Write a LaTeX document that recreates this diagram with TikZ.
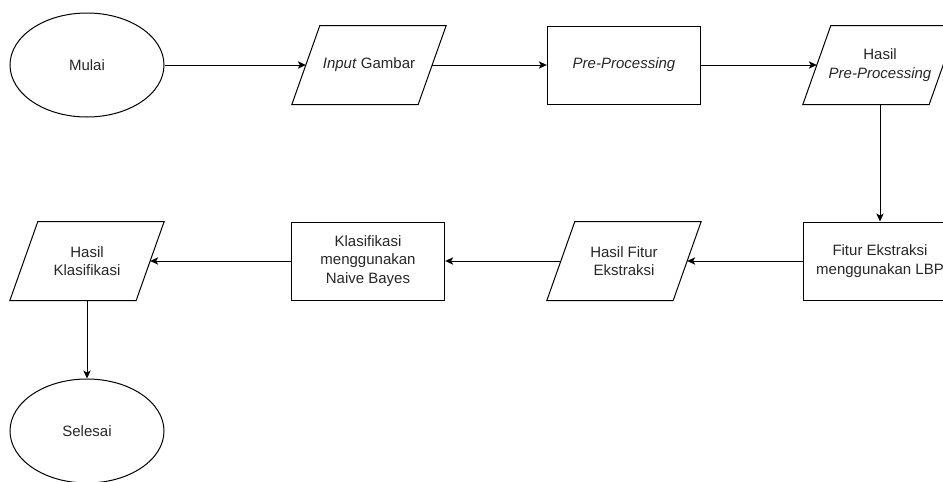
\documentclass[tikz,border=0pt]{standalone}
\usepackage{fontspec}
\setmainfont{Liberation Sans}
\usetikzlibrary{arrows.meta,shapes.geometric}
% flowchart styles (sizes in pt, 1px = 0.75pt)
\tikzset{
  flowtext/.style={font=\fontsize{11.25}{14}\selectfont, align=center, text=black!85},
  terminal/.style={flowtext, draw, ellipse, minimum width=115.5pt, minimum height=78pt, inner sep=0pt},
  process/.style={flowtext, draw, rectangle, minimum width=115pt, minimum height=58.5pt, inner sep=0pt},
  % body of a data box: its sides are drawn slanted by \ioslant
  iobox/.style={flowtext, rectangle, minimum width=94pt, minimum height=58.5pt, inner sep=0pt},
  flow/.style={-{Stealth[length=6pt,width=5.5pt,inset=1.5pt]}},
}
\newcommand{\ioslant}[1]{% parallelogram outline round node #1
  \draw ([xshift=-10.5pt]#1.south west) -- ([xshift=10.5pt]#1.north west)
    -- ([xshift=10.5pt]#1.north east) -- ([xshift=-10.5pt]#1.south east) -- cycle;
}

\begin{document}
\begin{tikzpicture}[x=0.75pt,y=-0.75pt,line width=0.75pt]
  \path[use as bounding box] (0,0) rectangle (943,482);
  \clip (0,0) rectangle (943,482);
  % top row
  \node[terminal] (mulai) at (87,65) {Mulai};
  \node[iobox] (input) at (369,65) {\textit{Input} Gambar};
  \node[process] (prepro) at (624,65) {\textit{Pre-Processing}};
  \node[iobox] (hasilpre) at (880,65) {Hasil\\\textit{Pre-Processing}};
  % second row
  \node[process] (fitur) at (880,261) {Fitur Ekstraksi\\menggunakan LBP};
  \node[iobox] (hasilfitur) at (624,261) {Hasil Fitur\\Ekstraksi};
  \node[process] (klasifikasi) at (368,261) {Klasifikasi\\menggunakan\\Naive Bayes};
  \node[iobox] (hasilklas) at (87,261) {Hasil\\Klasifikasi};
  \node[terminal] (selesai) at (87,431) {Selesai};
  \ioslant{input} \ioslant{hasilpre} \ioslant{hasilfitur} \ioslant{hasilklas}
  % connectors
  \draw[flow] (mulai) -- (input);
  \draw[flow] (input) -- (prepro);
  \draw[flow] (prepro) -- (hasilpre);
  \draw[flow] (hasilpre) -- (fitur);
  \draw[flow] (fitur) -- (hasilfitur);
  \draw[flow] (hasilfitur) -- (klasifikasi);
  \draw[flow] (klasifikasi) -- (hasilklas);
  \draw[flow] (hasilklas) -- (selesai);
\end{tikzpicture}
\end{document}
